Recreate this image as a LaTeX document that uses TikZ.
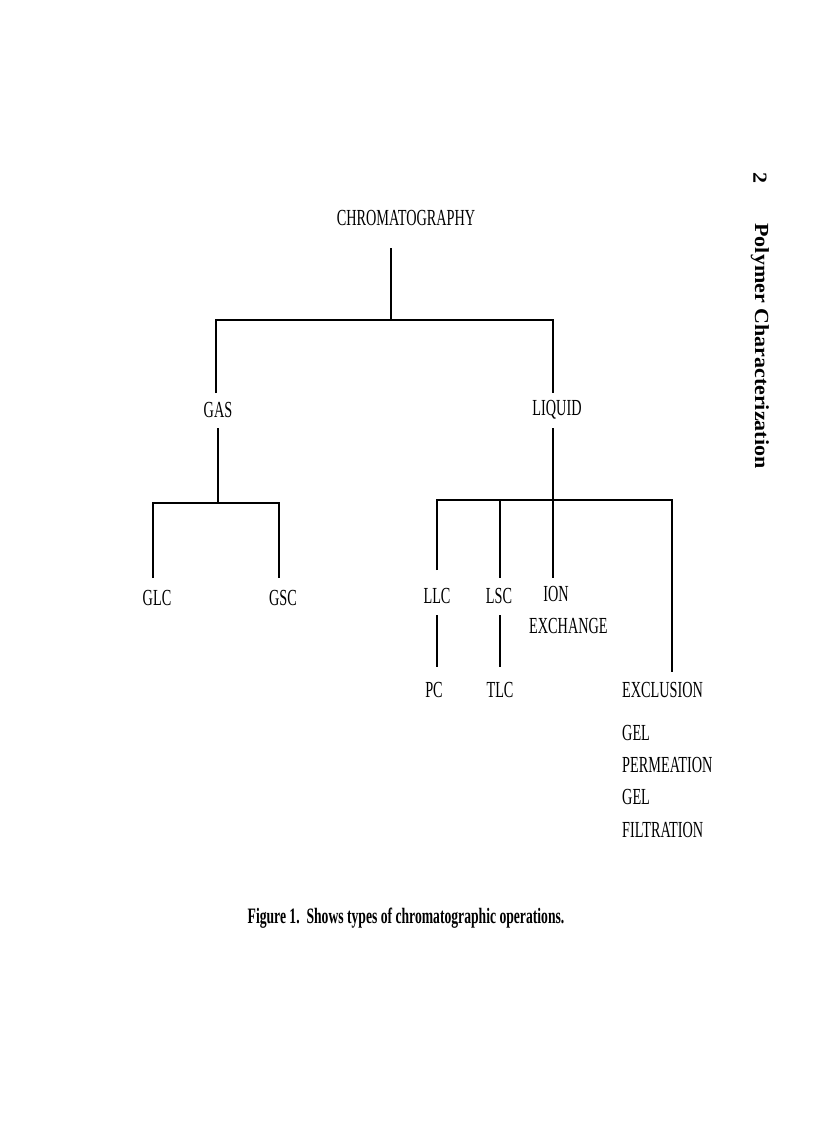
\documentclass[tikz,border=0pt]{standalone}
\usepackage{fontspec}
\setmainfont{Liberation Serif}
\newfontfamily\cond[FakeStretch=0.62]{Liberation Serif}
\newfontfamily\wide[FakeStretch=1.1]{Liberation Serif}
\begin{document}
\begin{tikzpicture}[x=1pt,y=-1pt,
  lbl/.style={font=\cond\fontsize{23}{26}\selectfont,inner sep=0pt},
  ln/.style={line width=1.1pt}]
\useasboundingbox (0,0) rectangle (816,1123);
\fill[white] (0,0) rectangle (816,1123);
\node[lbl] (chr) at (406,218) {CHROMATOGRAPHY};
\coordinate (j0) at (391,320);
\node[lbl] (gas) at (218,410) {GAS};
\node[lbl] (liq) at (557,410) {LIQUID};
\node[lbl] (glc) at (157,598) {GLC};
\node[lbl] (gsc) at (283,598) {GSC};
\node[lbl] (llc) at (437,596) {LLC};
\node[lbl] (lsc) at (499,596) {LSC};
\node[lbl] (ion) at (556,594) {ION};
\node[lbl,anchor=west] (exch) at (529,626) {EXCHANGE};
\node[lbl] (pc) at (434,690) {PC};
\node[lbl] (tlc) at (500,690) {TLC};
\node[lbl,anchor=west] (excl) at (622,690) {EXCLUSION};
\node[lbl,anchor=west] (g1) at (622,733) {GEL};
\node[lbl,anchor=west] (perm) at (622,765) {PERMEATION};
\node[lbl,anchor=west] (g2) at (622,797) {GEL};
\node[lbl,anchor=west] (filt) at (622,830) {FILTRATION};
\node[font=\cond\bfseries\fontsize{22}{24}\selectfont] (cap) at (406,918) {Figure 1.\ \ Shows types of chromatographic operations.};
\node[font=\wide\bfseries\fontsize{20}{22}\selectfont,rotate=-90] (num) at (760,178) {2};
\node[font=\wide\bfseries\fontsize{20}{22}\selectfont,rotate=-90,anchor=west] (pcz) at (760,220) {Polymer Characterization};
% connectors
\draw[ln] (391,248) -- (j0);
\draw[ln] (216,393) -- (216,320) -- (553,320) -- (553,393);
\draw[ln] (218,428) -- (218,503);
\draw[ln] (153,578) -- (153,503) -- (279,503) -- (279,578);
\draw[ln] (553,428) -- (553,578);
\draw[ln] (437,570) -- (437,500) -- (672,500) -- (672,672);
\draw[ln] (500,500) -- (500,578);
\draw[ln] (437,615) -- (437,667);
\draw[ln] (500,615) -- (500,667);
\end{tikzpicture}
\end{document}
